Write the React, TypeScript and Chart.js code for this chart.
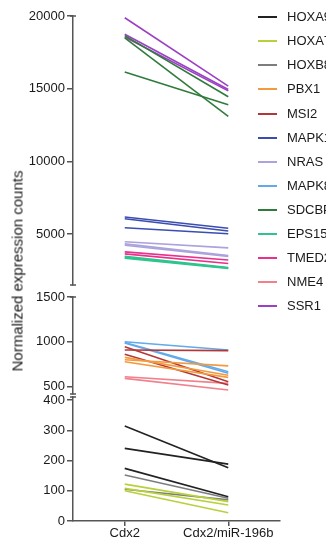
import React, { useEffect, useRef } from 'react';
import { Chart, registerables } from 'chart.js';

Chart.register(...registerables);

const categories = ['Cdx2', 'Cdx2/miR-196b'];

// Each gene: lines given as [Cdx2, Cdx2/miR-196b] normalized expression counts
const HOXA9 = [[314, 176], [240, 188], [174, 80]];
const HOXA7 = [[122, 64], [108, 53], [100, 27]];
const HOXB8 = [[152, 75], [105, 70]];
const PBX1 = [[825, 625], [798, 730], [776, 601]];
const MSI2 = [[944, 552], [907, 900], [859, 515]];
const MAPK1 = [[6180, 5400], [6060, 5210], [5440, 5020]];
const NRAS = [[4470, 4050], [4330, 3520], [4230, 3470]];
const MAPK8 = [[1000, 908], [990, 664], [985, 646]];
const SDCBP = [[18650, 14450], [18500, 13100], [16150, 13900]];
const EPS15 = [[3480, 2700], [3400, 2670], [3350, 2640]];
const TMED2 = [[3780, 3220], [3640, 2980]];
const NME4 = [[608, 534], [590, 459]];
const SSR1 = [[19880, 15180], [18750, 14950], [18550, 14850]];

const geneNames = ['HOXA9', 'HOXA7', 'HOXB8', 'PBX1', 'MSI2', 'MAPK1', 'NRAS', 'MAPK8', 'SDCBP', 'EPS15', 'TMED2', 'NME4', 'SSR1'];
const geneValues = [HOXA9, HOXA7, HOXB8, PBX1, MSI2, MAPK1, NRAS, MAPK8, SDCBP, EPS15, TMED2, NME4, SSR1];
const geneColors = ['#222222', '#b9d03c', '#7d7d7d', '#f39a3e', '#b23838', '#3c4db0', '#aaa3dd', '#62aae8', '#2f7b3c', '#2ec48e', '#e8308c', '#f0808c', '#9b40c2'];
const geneAxis = ['yLow', 'yLow', 'yLow', 'yMid', 'yMid', 'yHigh', 'yHigh', 'yMid', 'yHigh', 'yHigh', 'yHigh', 'yMid', 'yHigh'];

const highTicks = [5000, 10000, 15000, 20000];
const midTicks = [500, 1000, 1500];
const lowTicks = [0, 100, 200, 300, 400];
const highRange = [1500, 20000];
const midRange = [415, 1500];
const lowRange = [0, 410];

const FONT = "'Liberation Sans', Arial, Helvetica, sans-serif";
const AXIS = '#555555';
const TEXT = '#1a1a1a';

const breakCaps = {
  id: 'breakCaps',
  afterDraw(chart: any) {
    const ctx = chart.ctx;
    ctx.save();
    ctx.strokeStyle = AXIS;
    ctx.lineWidth = 1.5;
    const ids = ['yHigh', 'yMid', 'yLow'];
    ids.forEach((id) => {
      const s = chart.scales[id];
      const x = s.right;
      const ys = id === 'yLow' ? [s.top] : [s.top, s.bottom];
      ys.forEach((y: number) => {
        ctx.beginPath();
        ctx.moveTo(x - 3, y);
        ctx.lineTo(x + 3, y);
        ctx.stroke();
      });
    });
    ctx.restore();
  },
};

function yAxis(range: number[], ticks: number[], weight: number) {
  return {
    type: 'linear',
    position: 'left',
    stack: 'y',
    stackWeight: weight,
    min: range[0],
    max: range[1],
    afterBuildTicks: (s: any) => {
      s.ticks = ticks.map((v) => ({ value: v }));
    },
    afterFit: (s: any) => {
      s.width = 73;
    },
    border: { display: true, color: AXIS, width: 1.5 },
    grid: { drawOnChartArea: false, drawTicks: true, tickLength: 6, color: AXIS, lineWidth: 1.5 },
    ticks: {
      color: TEXT,
      padding: 2,
      autoSkip: false,
      font: { size: 13, family: FONT },
      callback: (v: any) => String(v),
    },
  };
}

function spacer(weight: number) {
  return {
    type: 'linear',
    position: 'left',
    stack: 'y',
    stackWeight: weight,
    display: false,
  };
}

export default function App() {
  const ref = useRef<HTMLCanvasElement>(null);

  useEffect(() => {
    const datasets: any[] = [];
    geneValues.forEach((lines, gi) => {
      lines.forEach((pair) => {
        datasets.push({
          label: geneNames[gi],
          data: pair,
          yAxisID: geneAxis[gi],
          xAxisID: 'x',
          borderColor: geneColors[gi],
          backgroundColor: geneColors[gi],
          borderWidth: 1.6,
          pointRadius: 0,
          fill: false,
          tension: 0,
        });
      });
    });

    const chart = new Chart(ref.current as HTMLCanvasElement, {
      type: 'line',
      data: { labels: categories, datasets },
      options: {
        responsive: false,
        animation: false,
        layout: { padding: { top: 16, right: 46, bottom: 0, left: 0 } },
        plugins: { legend: { display: false }, tooltip: { enabled: false } },
        scales: {
          x: {
            type: 'category',
            position: 'bottom',
            offset: true,
            afterFit: (s: any) => {
              s.height = 20;
            },
            border: { display: true, color: AXIS, width: 1.5 },
            grid: { drawOnChartArea: false, drawTicks: true, tickLength: 5, color: AXIS, lineWidth: 1.5 },
            ticks: { color: TEXT, padding: 0, maxRotation: 0, autoSkip: false, font: { size: 13, family: FONT } },
          },
          // stacked axes are placed bottom-up in definition order
          yLow: yAxis(lowRange, lowTicks, 124),
          gap2: spacer(3),
          yMid: yAxis(midRange, midTicks, 97),
          gap1: spacer(12),
          yHigh: yAxis(highRange, highTicks, 269),
        } as any,
      },
      plugins: [breakCaps],
    } as any);
    return () => chart.destroy();
  }, []);

  return (
    <div
      style={{
        position: 'absolute',
        left: 0,
        top: 0,
        width: 326,
        height: 541,
        overflow: 'hidden',
        background: '#ffffff',
        fontFamily: FONT,
      }}
    >
      <canvas ref={ref} width={326} height={541} style={{ display: 'block', width: 326, height: 541 }} />
      <div
        style={{
          position: 'absolute',
          left: 17,
          top: 271,
          transform: 'translate(-50%, -50%) rotate(-90deg)',
          whiteSpace: 'nowrap',
          fontSize: 15,
          color: TEXT,
        }}
      >
        Normalized expression counts
      </div>
      {geneNames.map((name, i) => (
        <div
          key={name}
          style={{
            position: 'absolute',
            left: 258,
            top: 17.3 + i * 24.06 - 12,
            height: 24,
            display: 'flex',
            alignItems: 'center',
            whiteSpace: 'nowrap',
          }}
        >
          <span style={{ display: 'inline-block', width: 19, height: 2, background: geneColors[i] }} />
          <span style={{ marginLeft: 10, fontSize: 13, color: TEXT, lineHeight: '24px' }}>{name}</span>
        </div>
      ))}
    </div>
  );
}
